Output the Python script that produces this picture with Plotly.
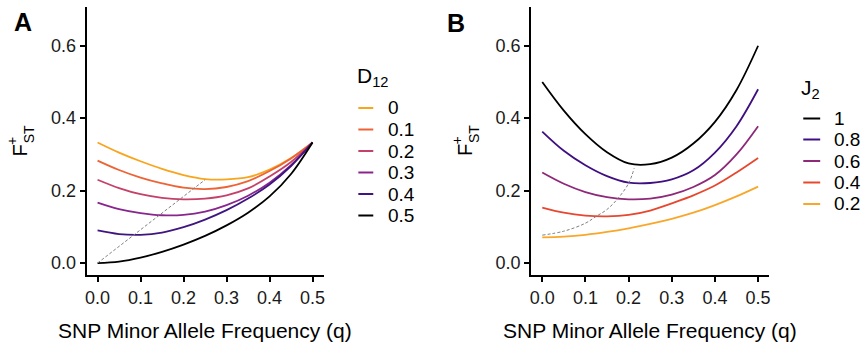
import plotly.graph_objects as go

W, H = 862, 348

# ---------------- data ----------------
q = [0.0, 0.05, 0.10, 0.15, 0.20, 0.25, 0.30, 0.35, 0.40, 0.45, 0.50]

# Panel A: F+ST for different D12
d12_labels = ["0", "0.1", "0.2", "0.3", "0.4", "0.5"]
fst_d0 = [0.333, 0.305, 0.281, 0.260, 0.243, 0.232, 0.231, 0.237, 0.258, 0.290, 0.333]
fst_d1 = [0.283, 0.257, 0.236, 0.220, 0.208, 0.204, 0.210, 0.226, 0.254, 0.289, 0.333]
fst_d2 = [0.230, 0.207, 0.190, 0.180, 0.176, 0.178, 0.187, 0.206, 0.239, 0.279, 0.333]
fst_d3 = [0.167, 0.149, 0.138, 0.132, 0.133, 0.142, 0.160, 0.186, 0.222, 0.270, 0.333]
fst_d4 = [0.090, 0.080, 0.078, 0.084, 0.099, 0.120, 0.146, 0.178, 0.217, 0.268, 0.333]
fst_d5 = [0.000, 0.004, 0.015, 0.031, 0.051, 0.075, 0.104, 0.139, 0.184, 0.246, 0.333]
d12_series = [fst_d0, fst_d1, fst_d2, fst_d3, fst_d4, fst_d5]
d12_colors = ["#F8A51C", "#EE6336", "#C4416A", "#88258E", "#3F1580", "#000000"]
minline_a_q = [0.0, 0.25]
minline_a_v = [0.0, 0.230]

# Panel B: F+ST for different J2
j2_labels = ["1", "0.8", "0.6", "0.4", "0.2"]
fst_j10 = [0.500, 0.421, 0.356, 0.306, 0.275, 0.273, 0.291, 0.330, 0.390, 0.478, 0.600]
fst_j08 = [0.363, 0.310, 0.270, 0.240, 0.222, 0.221, 0.231, 0.256, 0.305, 0.378, 0.480]
fst_j06 = [0.250, 0.219, 0.196, 0.182, 0.176, 0.178, 0.189, 0.210, 0.243, 0.300, 0.378]
fst_j04 = [0.153, 0.139, 0.131, 0.129, 0.133, 0.145, 0.165, 0.187, 0.214, 0.250, 0.290]
fst_j02 = [0.071, 0.073, 0.078, 0.086, 0.096, 0.108, 0.122, 0.139, 0.160, 0.184, 0.211]
j2_series = [fst_j10, fst_j08, fst_j06, fst_j04, fst_j02]
j2_colors = ["#000000", "#3F0F82", "#8E2878", "#E8472F", "#F9A72A"]
minline_b_q = [0.0, 0.05, 0.10, 0.125, 0.15, 0.175, 0.20, 0.213]
minline_b_v = [0.077, 0.088, 0.110, 0.129, 0.148, 0.178, 0.220, 0.262]

x_ticks = [0.0, 0.1, 0.2, 0.3, 0.4, 0.5]
y_ticks = [0.0, 0.2, 0.4, 0.6]

# ---------------- figure ----------------
FONT = "Liberation Sans, Arial, sans-serif"
TXT = "#1a1a1a"

def px_x(x):
    return x / W

def px_y(y):
    return 1 - y / H

fig = go.Figure()

for vals, col in zip(d12_series, d12_colors):
    fig.add_trace(go.Scatter(x=q, y=vals, mode="lines", xaxis="x", yaxis="y",
                             line=dict(color=col, width=1.8, shape="spline"),
                             showlegend=False, hoverinfo="skip"))
fig.add_trace(go.Scatter(x=minline_a_q, y=minline_a_v, mode="lines", xaxis="x", yaxis="y",
                         line=dict(color="#808080", width=1, dash="3px,2px"),
                         showlegend=False, hoverinfo="skip"))

for vals, col in zip(j2_series, j2_colors):
    fig.add_trace(go.Scatter(x=q, y=vals, mode="lines", xaxis="x2", yaxis="y2",
                             line=dict(color=col, width=1.8, shape="spline"),
                             showlegend=False, hoverinfo="skip"))
fig.add_trace(go.Scatter(x=minline_b_q, y=minline_b_v, mode="lines", xaxis="x2", yaxis="y2",
                         line=dict(color="#808080", width=1, dash="3px,2px", shape="spline"),
                         showlegend=False, hoverinfo="skip"))

axis_common = dict(showline=True, linecolor="black", linewidth=2, ticks="outside",
                   ticklen=5, tickwidth=2, tickcolor="black", showgrid=False,
                   zeroline=False, tickfont=dict(family=FONT, size=18, color=TXT),
                   tickformat=".1f")

ydom = [px_y(275), px_y(7)]
fig.update_layout(
    width=W, height=H, margin=dict(l=0, r=0, t=0, b=0),
    paper_bgcolor="white", plot_bgcolor="white",
    xaxis=dict(domain=[px_x(85), px_x(323)], range=[-0.0255, 0.5255], anchor="y",
               tickvals=x_ticks, **axis_common),
    yaxis=dict(domain=ydom, range=[-0.033, 0.707], anchor="x",
               tickvals=y_ticks, **axis_common),
    xaxis2=dict(domain=[px_x(531.7), px_x(770.7)], range=[-0.0255, 0.5255], anchor="y2",
                tickvals=x_ticks, **axis_common),
    yaxis2=dict(domain=ydom, range=[-0.033, 0.707], anchor="x2",
                tickvals=y_ticks, **axis_common),
)

ann = []
shapes = []

def text(x, y, s, size, xanchor="center", yanchor="middle", angle=0, bold=False):
    if bold:
        s = "<b>" + s + "</b>"
    ann.append(dict(x=px_x(x), y=px_y(y), xref="paper", yref="paper", text=s,
                    showarrow=False, xanchor=xanchor, yanchor=yanchor, textangle=angle,
                    font=dict(family=FONT, size=size, color="black")))

for off in (0, 446.7):
    text(204 + off, 330, "SNP Minor Allele Frequency (q)", 21)
    text(18.5 + off, 150, "F", 20, angle=-90)
    text(9.5 + off, 140.5, "+", 14, angle=-90)
    text(27.5 + off, 134, "ST", 14, angle=-90)

text(21, 22, "A", 25, bold=True)
text(456, 23, "B", 25, bold=True)

# legend A
text(355, 77, "D<sub>12</sub>", 21, xanchor="left")
rows_a = [108, 129.5, 151, 172.5, 194, 215.5]
for lab, col, y in zip(d12_labels, d12_colors, rows_a):
    shapes.append(dict(type="line", xref="paper", yref="paper", x0=px_x(358), x1=px_x(373),
                       y0=px_y(y), y1=px_y(y), line=dict(color=col, width=2)))
    text(386, y, lab, 19, xanchor="left")

# legend B
text(801, 89, "J<sub>2</sub>", 21, xanchor="left")
rows_b = [118.5, 139.5, 161, 182.5, 204]
for lab, col, y in zip(j2_labels, j2_colors, rows_b):
    shapes.append(dict(type="line", xref="paper", yref="paper", x0=px_x(805), x1=px_x(822),
                       y0=px_y(y), y1=px_y(y), line=dict(color=col, width=2)))
    text(834, y, lab, 19, xanchor="left")

fig.update_layout(annotations=ann, shapes=shapes)
fig.write_html("out.html", config={"displayModeBar": False},
               post_script="document.body.style.margin='0';document.body.style.overflow='hidden';")
